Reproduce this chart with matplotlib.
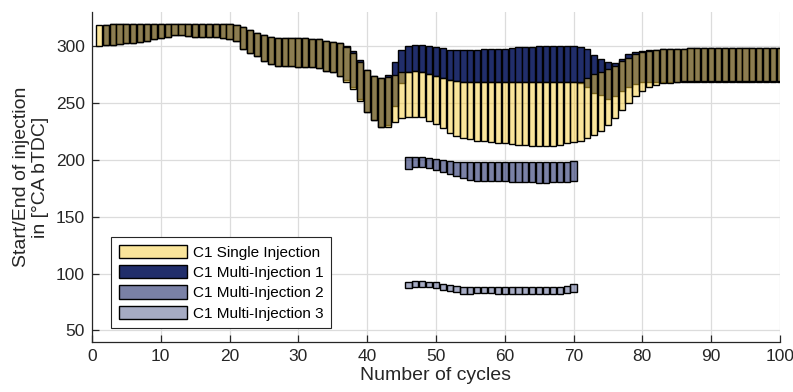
import numpy as np
import matplotlib.pyplot as plt

plt.rcParams['font.family'] = ['Liberation Sans', 'DejaVu Sans']

cycles = np.arange(1, 101)
mi_cycles = np.arange(46, 71)

# single injection: start (upper edge) and end (lower edge), deg CA bTDC
single_soi = [319, 319, 319.5, 320, 320, 320, 320, 320, 320, 320,
              320, 320, 320, 320, 320, 320, 320, 320, 320, 320,
              319, 317, 314.5, 312, 309.5, 308, 307, 307, 307, 307,
              307, 306.5, 306, 305, 304, 302.5, 299.5, 294, 286, 279.4,
              274, 272, 273, 275, 277, 277.6, 278, 277, 275.6, 274,
              272, 270.3, 269.7, 268.8, 268.5, 268.5, 268.3, 268.2, 268.2, 268.2,
              268.2, 268.2, 268.2, 268.2, 268.2, 268.2, 268.2, 268.2, 268.5, 268.5,
              268.5, 272.5, 276, 277, 280, 283, 287, 290, 293, 295,
              296, 297, 297.5, 298, 298, 298, 298.2, 298.2, 298.3, 298.4,
              298.5, 298.5, 298.6, 298.7, 298.8, 298.8, 298.8, 298.8, 298.8, 298.8]
single_eoi = [300.5, 301, 301.5, 302, 302.5, 303, 304, 305, 306, 307,
              308.5, 309.5, 309.5, 309, 308.5, 308, 308, 308, 307.5, 306,
              304.5, 297.5, 294.5, 291, 287, 284.5, 283, 282.5, 282.5, 282,
              282, 281.5, 280.5, 278.5, 277, 273.5, 268.5, 262.3, 251.5, 242.3,
              235, 229.2, 229.4, 233.5, 237, 237.4, 238, 237.4, 234.4, 232,
              228.3, 224, 220.8, 219, 218, 217, 216.5, 216, 215, 214.5,
              214, 213.5, 213, 212.5, 212.5, 212.5, 212.5, 213, 214.5, 216,
              217, 219, 222, 225.5, 231, 237, 244, 250, 256, 261,
              264, 266, 267.5, 268, 268.8, 269, 269, 269, 269, 269,
              269, 269, 269, 269, 269, 269, 269, 269, 269, 269]

# multi-injection, first pulse (not used in cycle 1)
mi1_soi = [np.nan, 319, 319.5, 320, 320, 320, 320, 320, 320, 320,
           320, 320, 320, 320, 320, 320, 320, 320, 320, 320,
           319, 317, 314.5, 312, 309.5, 308, 307, 307, 307, 307,
           307, 306.5, 306, 305, 304, 302.5, 300, 296, 288.2, 279.4,
           274, 272, 275, 286.5, 297, 300.6, 301.5, 301.5, 300.6, 299.7,
           298.2, 297, 297, 297, 297, 297, 297.2, 297.5, 298, 298,
           298.5, 299, 299, 299.5, 300, 300.3, 300.3, 300.3, 300.6, 300.6,
           299.7, 298, 292.5, 289, 286, 285.5, 289, 293, 294.7, 295.6,
           296.5, 297, 297.5, 298, 298, 298, 298.2, 298.2, 298.3, 298.4,
           298.5, 298.5, 298.6, 298.7, 298.8, 298.8, 298.8, 298.8, 298.8, 298.8]
mi1_eoi = [np.nan, 301, 301.5, 302, 302.5, 303, 304, 305, 306, 307,
           308.5, 309.5, 309.5, 309, 308.5, 308, 308, 308, 307.5, 306,
           304.5, 297.5, 294.5, 291, 287, 284.5, 283, 282.5, 282.5, 282,
           282, 281.5, 280.5, 278.5, 277, 273.5, 270, 263.8, 254, 242.3,
           235, 229, 230.5, 247.6, 268, 277.6, 278, 277, 275.6, 274,
           272, 270.3, 269.7, 268.8, 268.5, 268.5, 268.3, 268.2, 268.2, 268.2,
           268.2, 268.2, 268.2, 268.2, 268.2, 268.2, 268.2, 268.2, 268.5, 268.5,
           268, 264, 259, 257, 254, 256, 261, 264, 266.8, 268.2,
           268.8, 268.7, 268.7, 268.7, 268.7, 268.7, 268.7, 268.7, 268.7, 268.7,
           268.7, 268.7, 268.7, 268.7, 268.7, 268.7, 268.7, 268.7, 268.7, 268.7]

# second and third pulse, cycles 46..70
mi2_soi = [202.4, 202.4, 202.4, 201.5, 201, 200, 199, 198.5, 198.5, 198.5,
           198.5, 198.5, 198.5, 198.5, 198.5, 198.5, 198.5, 198.5, 198.5, 198.5,
           198.5, 198.5, 198.5, 198.5, 199]
mi2_eoi = [192, 194, 194, 192.6, 191, 189.7, 187.6, 186, 184, 182.4,
           181.8, 181.5, 181.5, 181.5, 181.5, 181, 180.6, 180.3, 180.3, 180,
           180, 180.3, 180.3, 181, 181.8]
mi3_soi = [93, 93.5, 93.8, 93, 92.4, 91.2, 90.3, 88.8, 88, 88,
           88.5, 88.5, 88.5, 88, 88, 88, 87.8, 87.8, 87.8, 87.8,
           87.8, 87.8, 88, 88.8, 90.9]
mi3_eoi = [87.5, 88, 88.5, 88, 87, 86, 84.8, 83.5, 82.5, 82.5,
           83, 83, 83, 82.5, 82.5, 82.3, 82.2, 82.2, 82.2, 82.2,
           82.2, 82.3, 82.5, 83, 84]

navy = (0.13, 0.18, 0.42)
yellow = (0.97, 0.80, 0.22, 0.5)
bw = 0.9
lw = 1.0

fig = plt.figure(figsize=(7.93, 3.92), dpi=100)
ax = fig.add_axes([0.116, 0.128, 0.8675, 0.841])


def span_bars(x, soi, eoi, color, label):
    soi = np.asarray(soi, dtype=float)
    eoi = np.asarray(eoi, dtype=float)
    return ax.bar(x, soi - eoi, bottom=eoi, width=bw, facecolor=color,
                  edgecolor='k', linewidth=lw, label=label)


h1 = span_bars(cycles, mi1_soi, mi1_eoi, navy, 'C1 Multi-Injection 1')
h0 = span_bars(cycles, single_soi, single_eoi, yellow, 'C1 Single Injection')
h2 = span_bars(mi_cycles, mi2_soi, mi2_eoi, navy + (0.6,), 'C1 Multi-Injection 2')
h3 = span_bars(mi_cycles, mi3_soi, mi3_eoi, navy + (0.4,), 'C1 Multi-Injection 3')

ax.set_xlim(0, 100)
ax.set_ylim(40, 330)
ax.set_xticks(np.arange(0, 101, 10))
ax.set_yticks(np.arange(50, 301, 50))
ax.grid(True, color='#dcdcdc', linewidth=0.9)
ax.set_axisbelow(True)
for s in ['top', 'right']:
    ax.spines[s].set_visible(False)
for s in ['left', 'bottom']:
    ax.spines[s].set_color('#262626')
    ax.spines[s].set_linewidth(0.9)
ax.tick_params(direction='in', length=5, width=0.9, colors='#262626',
               labelsize=12.5, pad=5)

ax.set_xlabel('Number of cycles', fontsize=14, color='#262626', labelpad=2)
ax.set_ylabel('Start/End of injection\nin [°CA bTDC]', fontsize=14,
              color='#262626', labelpad=5, linespacing=1.12)

leg = ax.legend(handles=[h0, h1, h2, h3], loc='lower left',
                bbox_to_anchor=(0.0276, 0.041), fontsize=11, frameon=True,
                fancybox=False, edgecolor='#262626', framealpha=1,
                handlelength=4.45, handleheight=0.95, labelspacing=0.36,
                borderpad=0.5, handletextpad=0.4, borderaxespad=0)
leg.get_frame().set_linewidth(0.8)

fig.savefig('out.png', dpi=100)
